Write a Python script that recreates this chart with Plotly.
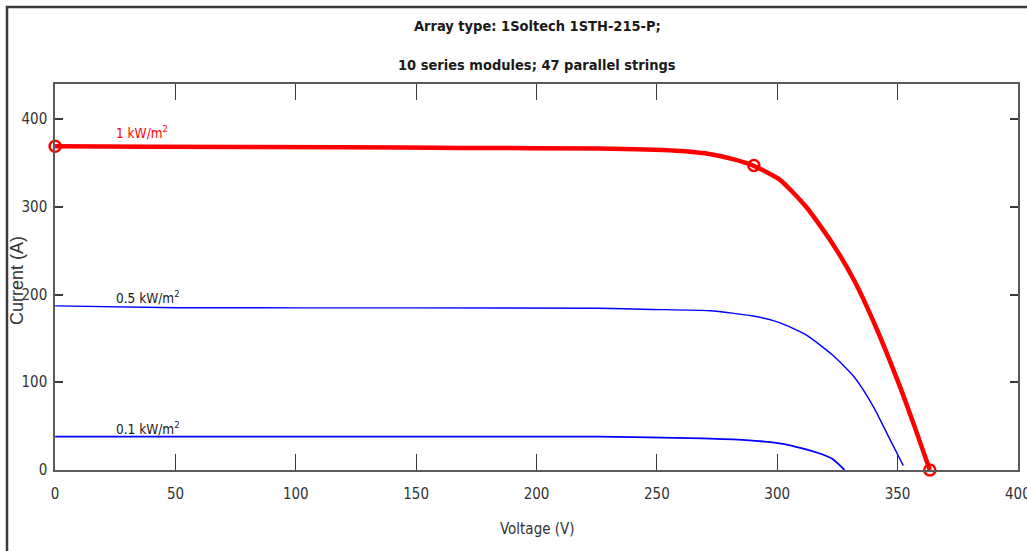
import plotly.graph_objects as go

# I-V curves of the PV array at three irradiance levels
v_1kw = [0, 40, 120, 170, 226, 258, 270, 282, 290, 301, 312, 323, 332, 341, 351, 357, 363.4]
i_1kw = [369, 368.5, 368, 367, 366.5, 364, 361, 354, 347, 331, 300, 258, 216, 163, 95, 50, 0]

v_05kw = [0, 51, 150, 226, 248, 272, 290, 301, 312, 323, 332, 340, 347, 352.4]
i_05kw = [187, 185, 184.8, 184.3, 183, 181.5, 175.5, 168, 154, 131, 106, 72, 34, 5]

v_01kw = [0, 150, 226, 269, 287, 301, 310, 318, 323, 328]
i_01kw = [38, 38, 38, 36, 34, 30.4, 25, 18.5, 12.5, 0]

# Marked points on the 1 kW/m2 curve: Isc, MPP, Voc
v_marks = [0, 290.3, 363.4]
i_marks = [369, 347, 0]

curve_labels = ["1 kW/m<sup>2</sup>", "0.5 kW/m<sup>2</sup>", "0.1 kW/m<sup>2</sup>"]
label_v = [24.5, 24.5, 24.5]
label_i = [385, 197, 48]
label_colors = ["#ff0000", "#1a1a1a", "#1a1a1a"]

title_lines = ["Array type: 1Soltech 1STH-215-P;", "10 series modules; 47 parallel strings"]
x_ticks = [0, 50, 100, 150, 200, 250, 300, 350, 400]
y_ticks = [0, 100, 200, 300, 400]

NARROW = "DejaVu Sans Condensed, Liberation Sans Narrow, Arial Narrow, Liberation Sans, sans-serif"

# plot area in pixels
L, R, T, B = 55, 1018, 84, 470
W_PLOT, H_PLOT = R - L, B - T


def px_x(p):
    return (p - L) / W_PLOT


def px_y(p):
    return (B - p) / H_PLOT


fig = go.Figure()
fig.add_trace(go.Scatter(x=v_05kw, y=i_05kw, mode="lines",
                         line=dict(color="#0000ff", width=1.4, shape="spline", smoothing=0.6)))
fig.add_trace(go.Scatter(x=v_01kw, y=i_01kw, mode="lines",
                         line=dict(color="#0000ff", width=1.8, shape="spline", smoothing=0.6)))
fig.add_trace(go.Scatter(x=v_1kw, y=i_1kw, mode="lines",
                         line=dict(color="#ff0000", width=4.5, shape="spline", smoothing=0.6)))
fig.add_trace(go.Scatter(x=v_marks, y=i_marks, mode="markers",
                         marker=dict(symbol="circle-open", size=11, color="#ff0000",
                                     line=dict(width=2.5, color="#ff0000")),
                         cliponaxis=False))

for txt, xv, yv, col in zip(curve_labels, label_v, label_i, label_colors):
    fig.add_annotation(x=xv, y=yv, text=txt, showarrow=False, xanchor="left",
                       font=dict(family=NARROW, size=13.5, color=col))

# Two-line bold title
for k, line in enumerate(title_lines):
    fig.add_annotation(xref="paper", yref="paper", x=px_x(537), y=px_y(26 + 39 * k),
                       text="<b>" + line + "</b>", showarrow=False, yanchor="middle",
                       font=dict(family=NARROW, size=14.5, color="#1a1a1a"))

# Axis titles
fig.add_annotation(xref="paper", yref="paper", x=px_x(537), y=px_y(529),
                   text="Voltage (V)", showarrow=False, yanchor="middle",
                   font=dict(family=NARROW, size=15, color="#333333"))
fig.add_annotation(xref="paper", yref="paper", x=px_x(17), y=px_y(281),
                   text="Current (A)", showarrow=False, textangle=-90,
                   xanchor="center", yanchor="middle",
                   font=dict(family="Liberation Sans, Arial, sans-serif", size=18,
                             color="#333333"))

# Figure frame (top and left edges)
fig.add_shape(type="path", xref="paper", yref="paper",
              path=f"M {px_x(7)} {px_y(560)} L {px_x(7)} {px_y(7)} L {px_x(1040)} {px_y(7)}",
              line=dict(color="#3a3a3a", width=2.5))

axis_common = dict(showline=True, mirror="ticks", linecolor="#5a5a5a", linewidth=1.5,
                   ticks="inside", tickcolor="#3a3a3a", showgrid=False, zeroline=False,
                   automargin=False, ticklabeloverflow="allow",
                   tickfont=dict(family=NARROW, size=15, color="#333333"))

fig.update_layout(
    width=1027, height=551,
    margin=dict(l=L, r=1027 - R, t=T, b=551 - B),
    paper_bgcolor="white", plot_bgcolor="white",
    showlegend=False,
    xaxis=dict(range=[-0.05, 400.05], tickvals=x_ticks, ticklen=16, tickwidth=1.2,
               ticklabelstandoff=9, **axis_common),
    yaxis=dict(range=[-0.05, 440], tickvals=y_ticks, ticklen=8, tickwidth=1.5,
               ticklabelstandoff=3, **axis_common),
)

fig.write_html("out.html")
